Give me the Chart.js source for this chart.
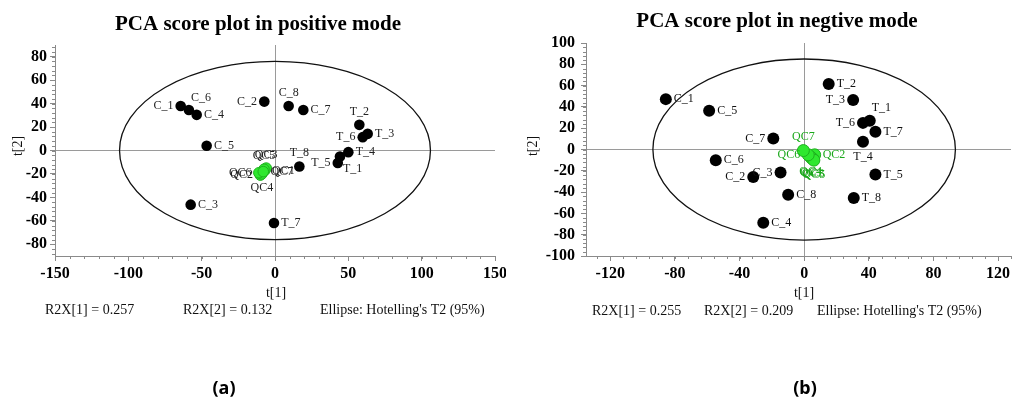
<!DOCTYPE html>
<html><head><meta charset="utf-8">
<script src="https://cdn.jsdelivr.net/npm/chart.js@4.4.1/dist/chart.umd.min.js"></script>
<style>
html,body{margin:0;padding:0;background:#fff;}
#wrap{position:relative;width:1012px;height:401px;overflow:hidden;background:#fff;}
#a{position:absolute;left:0;top:0;}
#b{position:absolute;left:506px;top:0;}
</style></head><body>
<div id="wrap"><canvas id="a" width="506" height="401"></canvas><canvas id="b" width="506" height="401"></canvas></div>
<script>
// ---------- DATA: positive mode ----------
const posNames = ['C_1','C_2','C_3','C_4','C_5','C_6','C_7','C_8','T_1','T_2','T_3','T_4','T_5','T_6','T_7','T_8'];
const posT1 = [-64.3,-7.3,-57.5,-53.4,-46.6,-58.7,19.3,9.3,44.3,57.5,63.2,50.0,42.8,59.8,-0.7,16.6];
const posT2 = [38.0,41.7,-46.2,30.4,4.0,34.6,34.6,38.0,-5.1,21.9,14.2,-1.4,-10.7,11.4,-61.8,-13.6];
const posQCNames = ['QC1','QC2','QC3','QC4','QC5','QC6','QC7'];
const posQCT1 = [-7.0,-10.0,-6.0,-9.0,-7.5,-11.0,-8.0];
const posQCT2 = [-17.0,-21.0,-15.0,-20.0,-16.0,-19.0,-18.0];
const posEllipse = [106, 76];
const posXTicks = [-150,-100,-50,0,50,100,150];
const posYTicks = [-80,-60,-40,-20,0,20,40,60,80];
const posR2X = ['R2X[1] = 0.257','R2X[2] = 0.132',"Ellipse: Hotelling's T2 (95%)"];

// ---------- DATA: negative mode ----------
const negNames = ['C_1','C_2','C_3','C_4','C_5','C_6','C_7','C_8','T_1','T_2','T_3','T_4','T_5','T_6','T_7','T_8'];
const negT1 = [-85.6,-31.5,-14.6,-25.3,-58.8,-54.7,-19.1,-9.9,40.6,15.2,30.3,36.4,44.1,36.4,44.1,30.7];
const negT2 = [47.3,-25.8,-21.7,-68.7,36.3,-10.1,10.3,-42.4,26.9,61.4,46.4,7.2,-23.5,25.0,16.6,-45.5];
const negQCNames = ['QC1','QC2','QC3','QC4','QC5','QC6','QC7'];
const negQCT1 = [4.5,6.5,5.5,4.0,6.0,2.5,-0.5];
const negQCT2 = [-8.0,-5.0,-9.0,-7.0,-10.0,-5.0,-1.0];
const negEllipse = [93.6, 85];
const negXTicks = [-120,-80,-40,0,40,80,120];
const negYTicks = [-100,-80,-60,-40,-20,0,20,40,60,80,100];
const negR2X = ['R2X[1] = 0.255','R2X[2] = 0.209',"Ellipse: Hotelling's T2 (95%)"];

// ---------- label placement (layout only) ----------
const posSide = ['l','l','r','r','r','tr','r','t','br','t','r','r','l','l','r','t'];
const posQCSide = ['r','l','t','b','t','l','r'];
const negSide = ['r','l','l','r','r','r','l','r','tr','r','l','b','r','l','r','r'];
const negQCSide = ['b','r','b','b','b','l','t'];

const SERIF = '"Liberation Serif","Times New Roman",serif';

function pts(xs, ys){ return xs.map((v,i)=>({x:v,y:ys[i]})); }

const decor = {
  id:'decor',
  beforeDatasetsDraw(chart, args, o){
    const {ctx, scales:{x,y}} = chart;
    const cx = x.getPixelForValue(0), cy = y.getPixelForValue(0);
    const rx = x.getPixelForValue(o.ellipse[0]) - cx;
    const ry = cy - y.getPixelForValue(o.ellipse[1]);
    ctx.save();
    ctx.beginPath(); ctx.ellipse(cx,cy,rx,ry,0,0,Math.PI*2);
    ctx.strokeStyle='#111'; ctx.lineWidth=1.3; ctx.stroke();
    ctx.restore();
  },
  afterDatasetsDraw(chart, args, o){
    const {ctx} = chart;
    ctx.save();
    ctx.font = '12px '+SERIF;
    chart.data.datasets.forEach((ds, di)=>{
      const meta = chart.getDatasetMeta(di);
      const r = ds.pointRadius + 2;
      ctx.fillStyle = ds.labelColor;
      meta.data.forEach((el, i)=>{
        const side = ds.sides[i], t = ds.names[i];
        let px = el.x, py = el.y, align='left';
        if (side==='r'){ px += r; }
        else if (side==='l'){ px -= r; align='right'; }
        else if (side==='t'){ py -= r+6; align='center'; }
        else if (side==='b'){ py += r+7; align='center'; }
        else if (side==='tr'){ px += 2; py -= r+5; }
        else if (side==='br'){ px += 3; py += r+5; }
        ctx.textAlign = align; ctx.textBaseline='middle';
        ctx.fillText(t, px, py);
      });
    });
    ctx.restore();
  },
  afterDraw(chart, args, o){
    const {ctx, scales:{x,y}} = chart;
    ctx.save();
    ctx.strokeStyle='#8a8a8a'; ctx.lineWidth=1;
    ctx.beginPath();
    for (let v=o.xMinor[0]; v<=o.xMinor[1]+1e-9; v+=o.xMinor[2]){
      const p = Math.round(x.getPixelForValue(v))+0.5;
      ctx.moveTo(p, x.top); ctx.lineTo(p, x.top+3);
    }
    for (let v=o.yMinor[0]; v<=o.yMinor[1]+1e-9; v+=o.yMinor[2]){
      const p = Math.round(y.getPixelForValue(v))+0.5;
      ctx.moveTo(y.right-3, p); ctx.lineTo(y.right, p);
    }
    ctx.stroke();
    o.texts.forEach(t=>{
      ctx.save();
      ctx.font = t.font; ctx.fillStyle = t.color || '#111';
      ctx.textAlign = t.align || 'center'; ctx.textBaseline='middle';
      ctx.translate(t.x, t.y);
      if (t.rot) ctx.rotate(t.rot);
      ctx.fillText(t.text, 0, 0);
      ctx.restore();
    });
    ctx.restore();
  }
};

function makeChart(id, cfg){
  const majorX = cfg.xTicks, majorY = cfg.yTicks;
  const axisCommon = (majors) => ({
    type:'linear',
    afterBuildTicks(s){ s.ticks = majors.map(v=>({value:v})); },
    ticks:{ autoSkip:false, maxRotation:0, color:'#000',
      font:{family:SERIF, size:16, weight:'bold'},
      callback:(v)=> String(v) },
    grid:{ color:(c)=> (c.tick && c.tick.value===0) ? '#9a9a9a' : 'rgba(0,0,0,0)',
      tickColor:'#8a8a8a', tickLength:5, lineWidth:1, drawTicks:true },
    border:{ color:'#8a8a8a', width:1 }
  });
  const xs = axisCommon(majorX);
  xs.min = cfg.xRange[0]; xs.max = cfg.xRange[1];
  xs.ticks.padding = cfg.xPad;
  xs.afterFit = (s)=>{ s.height = cfg.xH; s.paddingLeft=0; s.paddingRight=0; };
  const ys = axisCommon(majorY);
  ys.min = cfg.yRange[0]; ys.max = cfg.yRange[1];
  ys.ticks.padding = cfg.yPad;
  ys.afterFit = (s)=>{ s.width = cfg.yW; s.paddingTop=0; s.paddingBottom=0; };

  return new Chart(document.getElementById(id), {
    type:'scatter',
    data:{ datasets:[
      { data: pts(cfg.t1, cfg.t2), names: cfg.names, sides: cfg.sides, labelColor: cfg.labelColor,
        backgroundColor:'#000', borderColor:'#000', borderWidth:0, pointRadius: cfg.r, pointHoverRadius: cfg.r },
      { data: pts(cfg.qt1, cfg.qt2), names: cfg.qnames, sides: cfg.qsides, labelColor: cfg.qLabelColor,
        backgroundColor:'#2fe82f', borderColor:'#1fb01f', borderWidth:1, pointRadius: cfg.r, pointHoverRadius: cfg.r }
    ]},
    options:{
      responsive:false, animation:false, devicePixelRatio:1,
      layout:{ autoPadding:false, padding:{ left:0, right:cfg.padR, top:cfg.padT, bottom:0 } },
      scales:{ x: xs, y: ys },
      plugins:{ legend:{display:false}, tooltip:{enabled:false}, title:{display:false},
        decor:{ ellipse: cfg.ellipse, xMinor: cfg.xMinor, yMinor: cfg.yMinor, texts: cfg.texts } }
    },
    plugins:[decor]
  });
}

const small = '14px '+SERIF;
const big = 'bold 21px '+SERIF;
const sub = 'bold 18px "Noto Sans",sans-serif';
makeChart('a', {
  t1:posT1, t2:posT2, names:posNames, sides:posSide, labelColor:'#222',
  qt1:posQCT1, qt2:posQCT2, qnames:posQCNames, qsides:posQCSide, qLabelColor:'#222',
  ellipse:posEllipse, xTicks:posXTicks, yTicks:posYTicks,
  xRange:[-150,150], yRange:[-90,90], xMinor:[-150,150,10], yMinor:[-88,88,4],
  r:5.3, padR:11, padT:45, xH:145, yW:55, xPad:3, yPad:3,
  texts:[
    {text:'PCA score plot in positive mode', x:258, y:25, font:big, color:'#000'},
    {text:'t[2]', x:18, y:146, font:small, rot:-Math.PI/2},
    {text:'t[1]', x:276, y:293, font:small},
    {text:posR2X[0], x:45, y:310, font:small, align:'left'},
    {text:posR2X[1], x:183, y:310, font:small, align:'left'},
    {text:posR2X[2], x:320, y:310, font:small, align:'left'},
    {text:'(a)', x:224, y:389, font:sub, color:'#000'}
  ]
});
makeChart('b', {
  t1:negT1, t2:negT2, names:negNames, sides:negSide, labelColor:'#111',
  qt1:negQCT1, qt2:negQCT2, qnames:negQCNames, qsides:negQCSide, qLabelColor:'#1aa81a',
  ellipse:negEllipse, xTicks:negXTicks, yTicks:negYTicks,
  xRange:[-135,128], yRange:[-100,100], xMinor:[-128,128,8], yMinor:[-96,96,4],
  r:6, padR:1, padT:43, xH:145, yW:80, xPad:3, yPad:6,
  texts:[
    {text:'PCA score plot in negtive mode', x:777-506, y:22, font:big, color:'#000'},
    {text:'t[2]', x:533-506, y:146, font:small, rot:-Math.PI/2},
    {text:'t[1]', x:804-506, y:293, font:small},
    {text:negR2X[0], x:592-506, y:311, font:small, align:'left'},
    {text:negR2X[1], x:704-506, y:311, font:small, align:'left'},
    {text:negR2X[2], x:817-506, y:311, font:small, align:'left'},
    {text:'(b)', x:805-506, y:389, font:sub, color:'#000'}
  ]
});
</script>
</body></html>
